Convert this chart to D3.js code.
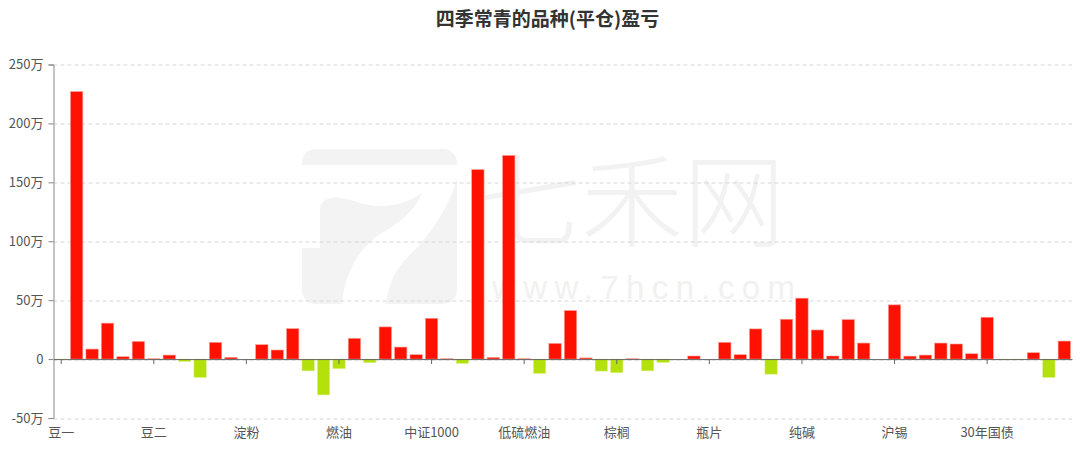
<!DOCTYPE html>
<html>
<head>
<meta charset="utf-8">
<script src="https://cdn.jsdelivr.net/npm/d3@7/dist/d3.min.js"></script>
<style>
    html, body { margin: 0; padding: 0; background: #fff; }
    svg { display: block; font-family: "Noto Sans CJK SC", "Noto Sans", sans-serif; }
</style>
</head>
<body>
<div class="bar-graph"></div>
<script>
// chart data (values in 万元)
var title = "四季常青的品种(平仓)盈亏";

var categories = [
    "豆一", "豆粕", "豆油", "玉米", "鸡蛋", "生猪",
    "豆二", "菜粕", "菜油", "花生", "苹果", "红枣",
    "淀粉", "粳米", "铁矿石", "焦炭", "焦煤", "螺纹钢",
    "燃油", "沥青", "橡胶", "20号胶", "纸浆", "原油",
    "中证1000", "沪深300", "上证50", "中证500", "2年国债", "5年国债",
    "低硫燃油", "国际铜", "集运指数", "乙二醇", "苯乙烯", "LPG",
    "棕榈", "塑料", "PVC", "PP", "纤维板", "胶合板",
    "瓶片", "PTA", "甲醇", "短纤", "玻璃", "尿素",
    "纯碱", "硅铁", "锰硅", "白糖", "棉花", "棉纱",
    "沪锡", "沪铜", "沪铝", "沪锌", "沪镍", "沪铅",
    "30年国债", "10年国债", "工业硅", "碳酸锂", "黄金", "白银"
];

var profits = [
    -0.2, 227, 8.5, 30.5, 2, 15,
    0.3, 3.4, -2, -15.6, 14.2, 1.5,
    0, 12.2, 7.7, 25.8, -10, -30.4,
    -8.2, 17.6, -3.1, 27.3, 10.2, 3.7,
    34.6, 0.3, -3.7, 160.8, 1.4, 172.8,
    0.3, -12.2, 13.3, 41.2, 1, -10.2,
    -11.6, 0.3, -10, -2.8, 0, 2.6,
    0, 14.2, 3.7, 25.6, -12.8, 33.8,
    51.7, 24.7, 2.6, 33.5, 13.6, 0,
    46, 2.5, 3.4, 13.6, 12.8, 4.5,
    35.5, -0.3, -0.2, 5.4, -15.6, 15.3
];

var yTicks = [-50, 0, 50, 100, 150, 200, 250];

// only every 6th category gets a label
var labelEvery = 6;

var colorUp = "#ff1100",
    colorDown = "#b4e00c";

// set the dimensions and margins of the graph
var W = 1080, H = 449;
var margin = {top: 64.5, right: 8, bottom: 31, left: 53.5},
    width = W - margin.left - margin.right,
    height = H - margin.top - margin.bottom;

var svg = d3.select("div.bar-graph").append("svg")
    .attr("width", W)
    .attr("height", H);

// watermark (七禾网)
var wm = svg.append("g").attr("class", "watermark");
wm.append("rect")
    .attr("x", 302).attr("y", 149)
    .attr("width", 155).attr("height", 155)
    .attr("rx", 14)
    .attr("fill", "#f3f3f3");
wm.append("path")
    .attr("transform", "translate(302,149)")
    .attr("d", "M0,16 H155 V30 C142,72 118,96 102,112 C90,126 86,140 84,155 H40 C43,120 60,96 80,84 " +
        "C100,72 114,60 120,44 C100,58 76,60 55,53 C40,48 24,44 18,58 V99 H0 Z")
    .attr("fill", "#fff");
wm.append("text")
    .attr("x", 479).attr("y", 239)
    .attr("font-size", 102)
    .attr("font-weight", 300)
    .attr("fill", "#f2f2f2")
    .text("七禾网");
wm.append("text")
    .attr("x", 492).attr("y", 299)
    .attr("font-size", 33)
    .attr("font-family", "'Liberation Sans', sans-serif")
    .attr("textLength", 303)
    .attr("lengthAdjust", "spacing")
    .attr("fill", "#f1f1f1")
    .text("www.7hcn.com");

// title
svg.append("text")
    .attr("x", 547.5).attr("y", 26)
    .attr("text-anchor", "middle")
    .attr("font-size", 19)
    .attr("font-weight", "bold")
    .attr("fill", "#333")
    .text(title);

var g = svg.append("g")
    .attr("transform", "translate(" + margin.left + "," + margin.top + ")");

// set the ranges
var x = d3.scaleBand()
    .domain(categories)
    .range([0, width])
    .paddingInner(0.2)
    .paddingOuter(0.1);

var y = d3.scaleLinear()
    .domain([d3.min(yTicks), d3.max(yTicks)])
    .range([height, 0]);

// dashed grid lines
g.selectAll(".grid")
    .data(yTicks)
    .enter().append("line")
    .attr("class", "grid")
    .attr("x1", 0).attr("x2", width)
    .attr("y1", function (d) { return Math.round(y(d)) + 0.5; })
    .attr("y2", function (d) { return Math.round(y(d)) + 0.5; })
    .attr("stroke", "#d6d6d6")
    .attr("stroke-dasharray", "4,3");

// bars
g.selectAll(".bar")
    .data(profits)
    .enter().append("rect")
    .attr("class", "bar")
    .attr("x", function (d, i) { return x(categories[i]); })
    .attr("width", x.bandwidth())
    .attr("y", function (d) { return y(Math.max(0, d)); })
    .attr("height", function (d) { return Math.abs(y(d) - y(0)); })
    .attr("fill", function (d) { return d >= 0 ? colorUp : colorDown; })
    .attr("stroke", function (d) { return d >= 0 ? "#ff9a90" : "#dcf08a"; })
    .attr("stroke-width", 0.6);

// add the y Axis
var yAxis = g.append("g")
    .call(d3.axisLeft(y)
        .tickValues(yTicks)
        .tickSize(5)
        .tickPadding(5)
        .tickFormat(function (d) { return d === 0 ? "0" : d + "万"; }));
yAxis.select(".domain").attr("stroke", "#888");
yAxis.selectAll(".tick line").attr("stroke", "#888");
yAxis.selectAll(".tick text")
    .attr("font-size", 13)
    .attr("fill", "#555")
    .attr("font-family", "'Noto Sans CJK SC', sans-serif");

// add the x Axis at zero
var xAxis = g.append("g")
    .attr("transform", "translate(0," + y(0) + ")")
    .call(d3.axisBottom(x)
        .tickValues(categories.filter(function (d, i) { return i % labelEvery === 0; }))
        .tickSizeInner(5)
        .tickSizeOuter(0)
        .tickPadding(height - y(0) + 5));
xAxis.select(".domain").attr("stroke", "#666");
xAxis.selectAll(".tick line").attr("stroke", "#666");
xAxis.selectAll(".tick text")
    .attr("font-size", 13)
    .attr("fill", "#555")
    .attr("font-family", "'Noto Sans CJK SC', sans-serif");
</script>
</body>
</html>
